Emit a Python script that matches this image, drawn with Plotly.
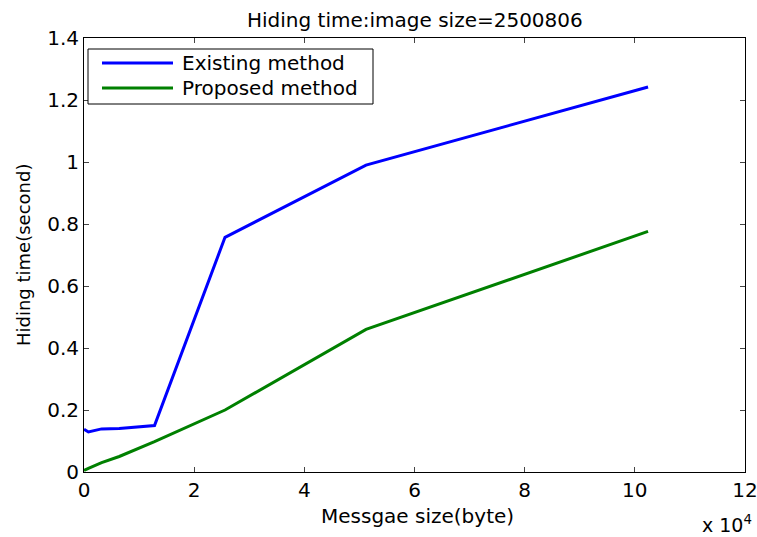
import plotly.graph_objects as go

msg_size = [0.0, 0.08, 0.32, 0.64, 1.28, 2.56, 5.12, 10.24]  # x 10^4 bytes
existing = [0.138, 0.129, 0.139, 0.140, 0.150, 0.757, 0.990, 1.242]
proposed = [0.005, 0.012, 0.030, 0.050, 0.098, 0.200, 0.460, 0.776]

x_ticks = [0, 2, 4, 6, 8, 10, 12]
y_ticks = [0, 0.2, 0.4, 0.6, 0.8, 1, 1.2, 1.4]
y_ticktext = ["0", "0.2", "0.4", "0.6", "0.8", "1", "1.2", "1.4"]
series_names = ["Existing method", "Proposed method"]
series_colors = ["#0000ff", "#008000"]

W, H = 757, 537
L, R, T, B = 84, 12, 38, 65
PW, PH = W - L - R, H - T - B
font = "DejaVu Sans, Liberation Sans, Arial, sans-serif"


def px(x):
    return (x - L) / PW


def py(y):
    return (H - B - y) / PH


fig = go.Figure()
fig.add_trace(go.Scatter(x=msg_size, y=existing, mode="lines", name=series_names[0],
                         line=dict(color=series_colors[0], width=3)))
fig.add_trace(go.Scatter(x=msg_size, y=proposed, mode="lines", name=series_names[1],
                         line=dict(color=series_colors[1], width=3)))

fig.update_layout(
    width=W, height=H,
    margin=dict(l=L, r=R, t=T, b=B, autoexpand=False),
    paper_bgcolor="white", plot_bgcolor="white",
    font=dict(family=font, size=20, color="black"),
    showlegend=False,
    xaxis=dict(range=[0, 12], tickvals=x_ticks, ticks="inside", ticklen=5,
               showline=True, linecolor="black", linewidth=1, mirror="allticks",
               showgrid=False, zeroline=False, tickfont=dict(size=20),
               ticklabeloverflow="allow", automargin=False),
    yaxis=dict(range=[0, 1.4], tickvals=y_ticks, ticktext=y_ticktext, ticks="inside", ticklen=5,
               showline=True, linecolor="black", linewidth=1, mirror="allticks",
               showgrid=False, zeroline=False, tickfont=dict(size=20),
               ticklabeloverflow="allow", automargin=False),
)

# title
fig.add_annotation(text="Hiding time:image size=2500806", xref="paper", yref="paper",
                   x=0.5, y=py(20), xanchor="center", yanchor="middle", showarrow=False,
                   font=dict(size=20))
# axis titles
fig.add_annotation(text="Messgae size(byte)", xref="paper", yref="paper",
                   x=px(417), y=py(516), xanchor="center", yanchor="middle", showarrow=False,
                   font=dict(size=20))
fig.add_annotation(text="Hiding time(second)", xref="paper", yref="paper",
                   x=px(23), y=py(255), xanchor="center", yanchor="middle", showarrow=False,
                   textangle=-90, font=dict(size=18))
fig.add_annotation(text="x 10<sup>4</sup>", xref="paper", yref="paper",
                   x=px(754), y=py(524), xanchor="right", yanchor="middle", showarrow=False,
                   font=dict(size=19))

# legend box
fig.add_shape(type="rect", xref="paper", yref="paper",
              x0=px(88), x1=px(373), y0=py(104), y1=py(49),
              line=dict(color="black", width=1), fillcolor="white", layer="above")
for i, (name, col) in enumerate(zip(series_names, series_colors)):
    yy = 63 + 25 * i
    fig.add_shape(type="line", xref="paper", yref="paper",
                  x0=px(102), x1=px(173), y0=py(yy), y1=py(yy),
                  line=dict(color=col, width=3), layer="above")
    fig.add_annotation(text=name, xref="paper", yref="paper",
                       x=px(180), y=py(yy), xanchor="left", yanchor="middle", showarrow=False,
                       font=dict(size=20))

fig.write_html("out.html")
